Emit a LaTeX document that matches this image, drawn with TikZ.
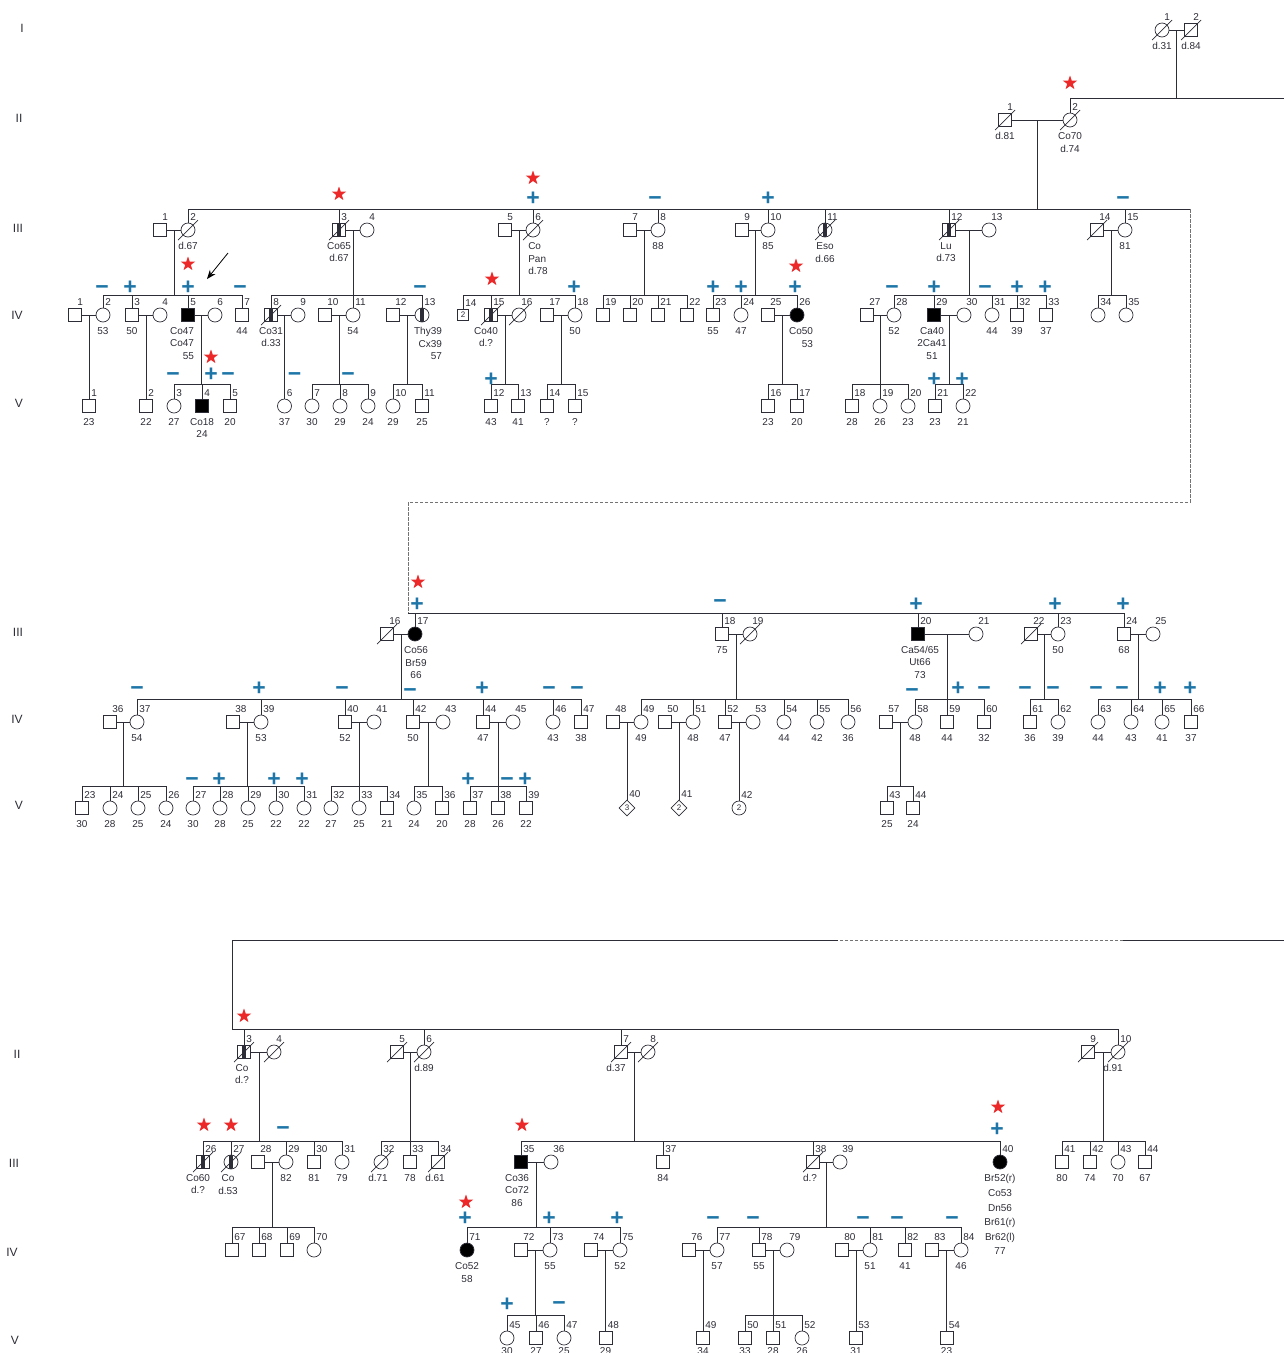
\documentclass[tikz,border=0pt]{standalone}
\usepackage{fontspec}
\setmainfont{Liberation Sans}
\usepackage{tikz}
\usetikzlibrary{calc, positioning, shapes.geometric, arrows.meta}
\definecolor{inkgray}{RGB}{45,45,55}
\definecolor{signblue}{RGB}{30,118,168}
\definecolor{starred}{RGB}{236,40,40}
\newcommand{\lblfont}{\fontsize{10}{12.5}\selectfont}
\tikzstyle{male} = [rectangle, draw, minimum size=13pt, inner sep=0pt]
\tikzstyle{fem} = [circle, draw, minimum size=14pt, inner sep=0pt]
\tikzstyle{aff} = [fill=black]
\tikzstyle{dia} = [diamond, draw, minimum size=16pt, inner sep=0pt, font=\fontsize{8}{8}\selectfont]
\tikzstyle{pmark} = [text=signblue, font=\fontsize{23}{23}\selectfont\bfseries, inner sep=0pt, text height=16pt, text depth=0pt]
\tikzstyle{starmk} = [star, star points=5, star point ratio=2.5, fill=starred, minimum size=15pt, inner sep=0pt]
\tikzstyle{genlbl} = [font=\fontsize{12}{12}\selectfont]
\tikzstyle{arrow} = [thick, black, -{Stealth[length=9pt,width=7pt]}]
\tikzstyle{brk} = [black!55, dash pattern=on 3.5pt off 1.5pt]
\tikzset{
  dslash/.style={to path={([xshift=-10pt,yshift=-10pt]\tikztostart) -- ([xshift=10pt,yshift=10pt]\tikztostart)}},
  dead/.style={append after command={(\tikzlastnode.center) edge[dslash] (\tikzlastnode.center)}},
  stripe/.style={path picture={\fill ([xshift=-2pt]path picture bounding box.north) rectangle ([xshift=2pt]path picture bounding box.south);}},
  numtxt/.style={font=\lblfont, inner sep=0.5pt, anchor=south west, xshift=1.5pt, yshift=1.5pt},
  agetxt/.style={font=\lblfont, inner sep=0.5pt, align=center, yshift=-4.5pt},
  num/.style={label={[numtxt]above:#1}},
  age/.style={label={[agetxt]below:#1}},
  agev/.style={label={[agetxt,yshift=3pt]below:#1}},
  agex/.style 2 args={label={[agetxt,xshift=#1]below:#2}}
}
% couple line with a named mid point, and the sibship below it
\newcommand{\couple}[3]{\draw (#2) -- (#3); \coordinate (#1) at ($(#2)!0.5!(#3)$);}
\newcommand{\kids}[3]{\coordinate (#1s) at (#1 |- 0,#2); \draw (#1) -- (#1s);
  \foreach \k in {#3} {\draw (\k.north) |- (#1s);}}

\begin{document}
\begin{tikzpicture}[x=1pt, y=-1pt, line width=0.7pt, color=inkgray]
\useasboundingbox (0,0) rectangle (1284,1353);

% generation labels
\node (gA1) [genlbl] at (22,28) {I};
\node (gA2) [genlbl] at (19,118) {II};
\node (gA3) [genlbl] at (18,228) {III};
\node (gA4) [genlbl] at (17,315) {IV};
\node (gA5) [genlbl] at (19,403) {V};
\node (gB3) [genlbl] at (18,632) {III};
\node (gB4) [genlbl] at (17,719) {IV};
\node (gB5) [genlbl] at (19,805) {V};
\node (gC2) [genlbl] at (17,1054) {II};
\node (gC3) [genlbl] at (14,1163) {III};
\node (gC4) [genlbl] at (12,1252) {IV};
\node (gC5) [genlbl] at (15,1340) {V};

% Part A: generations I and II
\node (aI1) [fem, dead, num=1, age={d.31}] at (1162,30) {};
\node (aI2) [male, dead, num=2, age={d.84}] at (1191,30) {};
\node (aII1) [male, dead, num=1, age={d.81}] at (1005,120) {};
\node (aII2) [fem, dead, num=2, age={Co70\\d.74}] at (1070,120) {};

% Part A: generation III
\node (aIII1) [male, num=1] at (160,230) {};
\node (aIII2) [fem, dead, num=2, age={d.67}] at (188,230) {};
\node (aIII3) [male, stripe, dead, num=3, age={Co65\\d.67}] at (339,230) {};
\node (aIII4) [fem, num=4] at (367,230) {};
\node (aIII5) [male, num=5] at (505,230) {};
\node (aIII6) [fem, dead, num=6, label={[agetxt,align=left,xshift=5pt]below:Co\\Pan\\d.78}] at (533,230) {};
\node (aIII7) [male, num=7] at (630,230) {};
\node (aIII8) [fem, num=8, age=88] at (658,230) {};
\node (aIII9) [male, num=9] at (742,230) {};
\node (aIII10) [fem, num=10, age=85] at (768,230) {};
\node (aIII11) [fem, stripe, dead, num=11, age={Eso\\d.66}] at (825,230) {};
\node (aIII12) [male, stripe, dead, num=12, agex={-3pt}{Lu\\d.73}] at (949,230) {};
\node (aIII13) [fem, num=13] at (989,230) {};
\node (aIII14) [male, dead, num=14] at (1097,230) {};
\node (aIII15) [fem, num=15, age=81] at (1125,230) {};

% Part A: generation IV
\node (aIV1) [male, num=1] at (75,315) {};
\node (aIV2) [fem, num=2, age=53] at (103,315) {};
\node (aIV3) [male, num=3, age=50] at (132,315) {};
\node (aIV4) [fem, num=4] at (160,315) {};
\node (aIV5) [male, aff, num=5, label={[agetxt,align=right,xshift=-6pt]below:Co47\\Co47\\55}] at (188,315) {};
\node (aIV6) [fem, num=6] at (215,315) {};
\node (aIV7) [male, num=7, age=44] at (242,315) {};
\node (aIV8) [male, stripe, dead, num=8, age={Co31\\d.33}] at (271,315) {};
\node (aIV9) [fem, num=9] at (298,315) {};
\node (aIV10) [male, num=10] at (325,315) {};
\node (aIV11) [fem, num=11, age=54] at (353,315) {};
\node (aIV12) [male, num=12] at (393,315) {};
\node (aIV13) [fem, stripe, num=13, label={[agetxt,align=right,xshift=6pt]below:Thy39\\Cx39\\57}] at (422,315) {};
\node (aIV14) [male, minimum size=11pt, font=\fontsize{8}{8}\selectfont, num=14] at (463,315) {2};
\node (aIV15) [male, stripe, dead, num=15, agex={-5pt}{Co40\\d.?}] at (491,315) {};
\node (aIV16) [fem, dead, num=16] at (519,315) {};
\node (aIV17) [male, num=17] at (547,315) {};
\node (aIV18) [fem, num=18, age=50] at (575,315) {};
\node (aIV19) [male, num=19] at (603,315) {};
\node (aIV20) [male, num=20] at (630,315) {};
\node (aIV21) [male, num=21] at (658,315) {};
\node (aIV22) [male, num=22] at (687,315) {};
\node (aIV23) [male, num=23, age=55] at (713,315) {};
\node (aIV24) [fem, num=24, age=47] at (741,315) {};
\node (aIV25) [male, num=25] at (768,315) {};
\node (aIV26) [fem, aff, num=26, label={[agetxt,align=right,xshift=4pt]below:Co50\\53}] at (797,315) {};
\node (aIV27) [male, num=27] at (867,315) {};
\node (aIV28) [fem, num=28, age=52] at (894,315) {};
\node (aIV29) [male, aff, num=29, agex={-2pt}{Ca40\\2Ca41\\51}] at (934,315) {};
\node (aIV30) [fem, num=30] at (964,315) {};
\node (aIV31) [fem, num=31, age=44] at (992,315) {};
\node (aIV32) [male, num=32, age=39] at (1017,315) {};
\node (aIV33) [male, num=33, age=37] at (1046,315) {};
\node (aIV34) [fem, num=34] at (1098,315) {};
\node (aIV35) [fem, num=35] at (1126,315) {};

% Part A: generation V
\node (aV1) [male, num=1, age=23] at (89,406) {};
\node (aV2) [male, num=2, age=22] at (146,406) {};
\node (aV3) [fem, num=3, age=27] at (174,406) {};
\node (aV4) [male, aff, num=4, age={Co18\\24}] at (202,406) {};
\node (aV5) [male, num=5, age=20] at (230,406) {};
\node (aV6) [fem, num=6, age=37] at (284.5,406) {};
\node (aV7) [fem, num=7, age=30] at (312,406) {};
\node (aV8) [fem, num=8, age=29] at (340,406) {};
\node (aV9) [fem, num=9, age=24] at (368,406) {};
\node (aV10) [fem, num=10, age=29] at (393,406) {};
\node (aV11) [male, num=11, age=25] at (422,406) {};
\node (aV12) [male, num=12, age=43] at (491,406) {};
\node (aV13) [male, num=13, age=41] at (518,406) {};
\node (aV14) [male, num=14, age=?] at (547,406) {};
\node (aV15) [male, num=15, age=?] at (575,406) {};
\node (aV16) [male, num=16, age=23] at (768,406) {};
\node (aV17) [male, num=17, age=20] at (797,406) {};
\node (aV18) [male, num=18, age=28] at (852,406) {};
\node (aV19) [fem, num=19, age=26] at (880,406) {};
\node (aV20) [fem, num=20, age=23] at (908,406) {};
\node (aV21) [male, num=21, age=23] at (935,406) {};
\node (aV22) [fem, num=22, age=21] at (963,406) {};

% Part A: lines
\coordinate (edgeA) at (1284,98);
\coordinate (brkA) at (1190,209);
\coordinate (dashA1) at (1190,502);
\coordinate (dashA2) at (408,502);
\coordinate (brkB) at (408,613);
\couple{aI12c}{aI1}{aI2}
\draw (aI12c) -- (aI12c |- edgeA);
\draw (aII2.north) |- (edgeA);
\couple{aII12c}{aII1}{aII2}
\draw (aII12c) -- (aII12c |- brkA);
\foreach \k in {aIII2,aIII3,aIII6,aIII8,aIII10,aIII11,aIII12,aIII15} {\draw (\k.north) |- (brkA);}
\draw[brk] (brkA) -- (dashA1) -- (dashA2) -- (brkB);
\couple{aIII12c}{aIII1}{aIII2} \kids{aIII12c}{295}{aIV2,aIV3,aIV5,aIV7}
\couple{aIII34c}{aIII3}{aIII4} \kids{aIII34c}{295}{aIV8,aIV11,aIV13}
\couple{aIII56c}{aIII5}{aIII6} \kids{aIII56c}{295}{aIV14,aIV15,aIV18}
\couple{aIII78c}{aIII7}{aIII8} \kids{aIII78c}{295}{aIV19,aIV20,aIV21,aIV22}
\couple{aIII910c}{aIII9}{aIII10} \kids{aIII910c}{295}{aIV23,aIV24,aIV26}
\couple{aIII1213c}{aIII12}{aIII13} \kids{aIII1213c}{295}{aIV28,aIV29,aIV31,aIV32,aIV33}
\couple{aIII1415c}{aIII14}{aIII15} \kids{aIII1415c}{295}{aIV34,aIV35}
\couple{aIV12c}{aIV1}{aIV2} \draw (aIV12c) -- (aV1);
\couple{aIV34c}{aIV3}{aIV4} \draw (aIV34c) -- (aV2);
\couple{aIV56c}{aIV5}{aIV6} \kids{aIV56c}{384}{aV3,aV4,aV5}
\couple{aIV89c}{aIV8}{aIV9} \draw (aIV89c) -- (aV6);
\couple{aIV1011c}{aIV10}{aIV11} \kids{aIV1011c}{384}{aV7,aV8,aV9}
\couple{aIV1213c}{aIV12}{aIV13} \kids{aIV1213c}{384}{aV10,aV11}
\couple{aIV1516c}{aIV15}{aIV16} \kids{aIV1516c}{384}{aV12,aV13}
\couple{aIV1718c}{aIV17}{aIV18} \kids{aIV1718c}{384}{aV14,aV15}
\couple{aIV2526c}{aIV25}{aIV26} \kids{aIV2526c}{384}{aV16,aV17}
\couple{aIV2728c}{aIV27}{aIV28} \kids{aIV2728c}{384}{aV18,aV19,aV20}
\couple{aIV2930c}{aIV29}{aIV30} \kids{aIV2930c}{384}{aV21,aV22}

% proband arrow
\coordinate (arrtail) at (228,253);
\coordinate (arrtip) at (207,279);
\draw[arrow] (arrtail) -- (arrtip);

% Part A: markers
\begin{scope}[node distance=33pt]
\node (aIII6p) [pmark, above of=aIII6] {+};
\node (aIII8m) [pmark, above of=aIII8, xshift=-3pt] {−};
\node (aIII10p) [pmark, above of=aIII10] {+};
\node (aIII15m) [pmark, above of=aIII15, xshift=-2pt] {−};
\end{scope}
\begin{scope}[node distance=29pt]
\node (aIV2m) [pmark, above of=aIV2, xshift=-1pt] {−};
\node (aIV3p) [pmark, above of=aIV3, xshift=-2pt] {+};
\node (aIV5p) [pmark, above of=aIV5] {+};
\node (aIV7m) [pmark, above of=aIV7, xshift=-2pt] {−};
\node (aIV13m) [pmark, above of=aIV13, xshift=-2pt] {−};
\node (aIV18p) [pmark, above of=aIV18, xshift=-1pt] {+};
\node (aIV23p) [pmark, above of=aIV23] {+};
\node (aIV24p) [pmark, above of=aIV24] {+};
\node (aIV26p) [pmark, above of=aIV26, xshift=-2pt] {+};
\node (aIV28m) [pmark, above of=aIV28, xshift=-2pt] {−};
\node (aIV29p) [pmark, above of=aIV29] {+};
\node (aIV31m) [pmark, above of=aIV31, xshift=-7pt] {−};
\node (aIV32p) [pmark, above of=aIV32] {+};
\node (aIV33p) [pmark, above of=aIV33, xshift=-1pt] {+};
\end{scope}
\begin{scope}[node distance=33pt]
\node (aV3m) [pmark, above of=aV3, xshift=-1pt] {−};
\node (aV4p) [pmark, above of=aV4, xshift=9pt] {+};
\node (aV5m) [pmark, above of=aV5, xshift=-2pt] {−};
\node (aV6m) [pmark, above of=aV6, xshift=10pt] {−};
\node (aV8m) [pmark, above of=aV8, xshift=8pt] {−};
\end{scope}
\begin{scope}[node distance=28pt]
\node (aV12p) [pmark, above of=aV12] {+};
\node (aV21p) [pmark, above of=aV21, xshift=-1pt] {+};
\node (aV22p) [pmark, above of=aV22, xshift=-1pt] {+};
\end{scope}
\node (aII2s) [starmk, node distance=37pt, above of=aII2] {};
\node (aIII3s) [starmk, node distance=36pt, above of=aIII3] {};
\node (aIII6s) [starmk, node distance=52pt, above of=aIII6] {};
\node (aIV5s) [starmk, node distance=51pt, above of=aIV5] {};
\node (aIV15s) [starmk, node distance=36pt, above of=aIV15, xshift=1pt] {};
\node (aIV26s) [starmk, node distance=49pt, above of=aIV26, xshift=-1pt] {};
\node (aV4s) [starmk, node distance=49pt, above of=aV4, xshift=9pt] {};

% Part B: generation III
\node (bIII16) [male, dead, num=16] at (387,634) {};
\node (bIII17) [fem, aff, num=17, agex={1pt}{Co56\\Br59\\66}] at (415,634) {};
\node (bIII18) [male, num=18, age=75] at (722,634) {};
\node (bIII19) [fem, dead, num=19] at (750,634) {};
\node (bIII20) [male, aff, num=20, agex={2pt}{Ca54/65\\Ut66\\73}] at (918,634) {};
\node (bIII21) [fem, num=21] at (976,634) {};
\node (bIII22) [male, dead, num=22] at (1031,634) {};
\node (bIII23) [fem, num=23, age=50] at (1058,634) {};
\node (bIII24) [male, num=24, age=68] at (1124,634) {};
\node (bIII25) [fem, num=25] at (1153,634) {};

% Part B: generation IV
\node (bIV36) [male, num=36] at (110,722) {};
\node (bIV37) [fem, num=37, age=54] at (137,722) {};
\node (bIV38) [male, num=38] at (233,722) {};
\node (bIV39) [fem, num=39, age=53] at (261,722) {};
\node (bIV40) [male, num=40, age=52] at (345,722) {};
\node (bIV41) [fem, num=41] at (374,722) {};
\node (bIV42) [male, num=42, age=50] at (413,722) {};
\node (bIV43) [fem, num=43] at (443,722) {};
\node (bIV44) [male, num=44, age=47] at (483,722) {};
\node (bIV45) [fem, num=45] at (513,722) {};
\node (bIV46) [fem, num=46, age=43] at (553,722) {};
\node (bIV47) [male, num=47, age=38] at (581,722) {};
\node (bIV48) [male, num=48] at (613,722) {};
\node (bIV49) [fem, num=49, age=49] at (641,722) {};
\node (bIV50) [male, num=50] at (665,722) {};
\node (bIV51) [fem, num=51, age=48] at (693,722) {};
\node (bIV52) [male, num=52, age=47] at (725,722) {};
\node (bIV53) [fem, num=53] at (753,722) {};
\node (bIV54) [fem, num=54, age=44] at (784,722) {};
\node (bIV55) [fem, num=55, age=42] at (817,722) {};
\node (bIV56) [fem, num=56, age=36] at (848,722) {};
\node (bIV57) [male, num=57] at (886,722) {};
\node (bIV58) [fem, num=58, age=48] at (915,722) {};
\node (bIV59) [male, num=59, age=44] at (947,722) {};
\node (bIV60) [male, num=60, age=32] at (984,722) {};
\node (bIV61) [male, num=61, age=36] at (1030,722) {};
\node (bIV62) [fem, num=62, age=39] at (1058,722) {};
\node (bIV63) [fem, num=63, age=44] at (1098,722) {};
\node (bIV64) [fem, num=64, age=43] at (1131,722) {};
\node (bIV65) [fem, num=65, age=41] at (1162,722) {};
\node (bIV66) [male, num=66, age=37] at (1191,722) {};

% Part B: generation V
\node (bV23) [male, num=23, age=30] at (82,808) {};
\node (bV24) [fem, num=24, age=28] at (110,808) {};
\node (bV25) [fem, num=25, age=25] at (138,808) {};
\node (bV26) [fem, num=26, age=24] at (166,808) {};
\node (bV27) [fem, num=27, age=30] at (193,808) {};
\node (bV28) [fem, num=28, age=28] at (220,808) {};
\node (bV29) [fem, num=29, age=25] at (248,808) {};
\node (bV30) [fem, num=30, age=22] at (276,808) {};
\node (bV31) [fem, num=31, age=22] at (304,808) {};
\node (bV32) [fem, num=32, age=27] at (331,808) {};
\node (bV33) [fem, num=33, age=25] at (359,808) {};
\node (bV34) [male, num=34, age=21] at (387,808) {};
\node (bV35) [fem, num=35, age=24] at (414,808) {};
\node (bV36) [male, num=36, age=20] at (442,808) {};
\node (bV37) [male, num=37, age=28] at (470,808) {};
\node (bV38) [male, num=38, age=26] at (498,808) {};
\node (bV39) [male, num=39, age=22] at (526,808) {};
\node (bV40) [dia, num=40] at (627,808) {3};
\node (bV41) [dia, num=41] at (679,808) {2};
\node (bV42) [fem, font=\fontsize{8}{8}\selectfont, num=42] at (739,808) {2};
\node (bV43) [male, num=43, age=25] at (887,808) {};
\node (bV44) [male, num=44, age=24] at (913,808) {};

% Part B: lines
\foreach \k in {bIII17,bIII18,bIII20,bIII23,bIII24} {\draw (\k.north) |- (brkB);}
\couple{bIII1617c}{bIII16}{bIII17} \kids{bIII1617c}{699}{bIV37,bIV39,bIV40,bIV42,bIV44,bIV46,bIV47}
\couple{bIII1819c}{bIII18}{bIII19} \kids{bIII1819c}{699}{bIV49,bIV51,bIV52,bIV54,bIV55,bIV56}
\couple{bIII2021c}{bIII20}{bIII21} \kids{bIII2021c}{699}{bIV58,bIV59,bIV60}
\couple{bIII2223c}{bIII22}{bIII23} \kids{bIII2223c}{699}{bIV61,bIV62}
\couple{bIII2425c}{bIII24}{bIII25} \kids{bIII2425c}{699}{bIV63,bIV64,bIV65,bIV66}
\couple{bIV3637c}{bIV36}{bIV37} \kids{bIV3637c}{786}{bV23,bV24,bV25,bV26}
\couple{bIV3839c}{bIV38}{bIV39} \kids{bIV3839c}{786}{bV27,bV28,bV29,bV30,bV31}
\couple{bIV4041c}{bIV40}{bIV41} \kids{bIV4041c}{786}{bV32,bV33,bV34}
\couple{bIV4243c}{bIV42}{bIV43} \kids{bIV4243c}{786}{bV35,bV36}
\couple{bIV4445c}{bIV44}{bIV45} \kids{bIV4445c}{786}{bV37,bV38,bV39}
\couple{bIV4849c}{bIV48}{bIV49} \draw (bIV4849c) -- (bV40);
\couple{bIV5051c}{bIV50}{bIV51} \draw (bIV5051c) -- (bV41);
\couple{bIV5253c}{bIV52}{bIV53} \draw (bIV5253c) -- (bV42);
\couple{bIV5758c}{bIV57}{bIV58} \kids{bIV5758c}{786}{bV43,bV44}

% Part B: markers
\begin{scope}[node distance=31pt]
\node (bIII17p) [pmark, above of=bIII17, xshift=2pt] {+};
\node (bIII18m) [pmark, above of=bIII18, xshift=-2pt, yshift=3pt] {−};
\node (bIII20p) [pmark, above of=bIII20, xshift=-2pt] {+};
\node (bIII23p) [pmark, above of=bIII23, xshift=-3pt] {+};
\node (bIII24p) [pmark, above of=bIII24, xshift=-1pt] {+};
\end{scope}
\node (bIII17s) [starmk, node distance=52pt, above of=bIII17, xshift=3pt] {};
\begin{scope}[node distance=35pt]
\node (bIV37m) [pmark, above of=bIV37] {−};
\node (bIV39p) [pmark, above of=bIV39, xshift=-2pt] {+};
\node (bIV40m) [pmark, above of=bIV40, xshift=-3pt] {−};
\node (bIV42m) [pmark, above of=bIV42, xshift=-3pt, yshift=-2pt] {−};
\node (bIV44p) [pmark, above of=bIV44, xshift=-1pt] {+};
\node (bIV46m) [pmark, above of=bIV46, xshift=-4pt] {−};
\node (bIV47m) [pmark, above of=bIV47, xshift=-4pt] {−};
\node (bIV58m) [pmark, above of=bIV58, xshift=-3pt, yshift=-2pt] {−};
\node (bIV59p) [pmark, above of=bIV59, xshift=11pt] {+};
\node (bIV60m) [pmark, above of=bIV60] {−};
\node (bIV61m) [pmark, above of=bIV61, xshift=-5pt] {−};
\node (bIV62m) [pmark, above of=bIV62, xshift=-5pt] {−};
\node (bIV63m) [pmark, above of=bIV63, xshift=-2pt] {−};
\node (bIV64m) [pmark, above of=bIV64, xshift=-9pt] {−};
\node (bIV65p) [pmark, above of=bIV65, xshift=-2pt] {+};
\node (bIV66p) [pmark, above of=bIV66, xshift=-1pt] {+};
\end{scope}
\begin{scope}[node distance=30pt]
\node (bV27m) [pmark, above of=bV27, xshift=-1pt] {−};
\node (bV28p) [pmark, above of=bV28, xshift=-1pt] {+};
\node (bV30p) [pmark, above of=bV30, xshift=-2pt] {+};
\node (bV31p) [pmark, above of=bV31, xshift=-2pt] {+};
\node (bV37p) [pmark, above of=bV37, xshift=-2pt] {+};
\node (bV38m) [pmark, above of=bV38, xshift=9pt] {−};
\node (bV39p) [pmark, above of=bV39, xshift=-1pt] {+};
\end{scope}

% Part C: generation II
\node (cII3) [male, stripe, dead, num=3, agex={-2pt}{Co\\d.?}] at (244,1052) {};
\node (cII4) [fem, dead, num=4] at (274,1052) {};
\node (cII5) [male, dead, num=5] at (397,1052) {};
\node (cII6) [fem, dead, num=6, age={d.89}] at (424,1052) {};
\node (cII7) [male, dead, num=7, agex={-5pt}{d.37}] at (621,1052) {};
\node (cII8) [fem, dead, num=8] at (648,1052) {};
\node (cII9) [male, dead, num=9] at (1088,1052) {};
\node (cII10) [fem, dead, num=10, agex={-5pt}{d.91}] at (1118,1052) {};

% Part C: generation III
\node (cIII26) [male, stripe, dead, num=26, agex={-5pt}{Co60\\d.?}] at (203,1162) {};
\node (cIII27) [fem, stripe, dead, num=27, agex={-3pt}{Co\\d.53}] at (231,1162) {};
\node (cIII28) [male, num=28] at (258,1162) {};
\node (cIII29) [fem, num=29, age=82] at (286,1162) {};
\node (cIII30) [male, num=30, age=81] at (314,1162) {};
\node (cIII31) [fem, num=31, age=79] at (342,1162) {};
\node (cIII32) [fem, dead, num=32, agex={-3pt}{d.71}] at (381,1162) {};
\node (cIII33) [male, num=33, age=78] at (410,1162) {};
\node (cIII34) [male, dead, num=34, agex={-3pt}{d.61}] at (438,1162) {};
\node (cIII35) [male, aff, num=35, agex={-4pt}{Co36\\Co72\\86}] at (521,1162) {};
\node (cIII36) [fem, num=36] at (551,1162) {};
\node (cIII37) [male, num=37, age=84] at (663,1162) {};
\node (cIII38) [male, dead, num=38, agex={-3pt}{d.?}] at (813,1162) {};
\node (cIII39) [fem, num=39] at (840,1162) {};
\node (cIII40) [fem, aff, num=40, label={[agetxt,font=\fontsize{10}{14.6}\selectfont]below:Br52(r)\\Co53\\Dn56\\Br61(r)\\Br62(l)\\77}] at (1000,1162) {};
\node (cIII41) [male, num=41, age=80] at (1062,1162) {};
\node (cIII42) [male, num=42, age=74] at (1090,1162) {};
\node (cIII43) [fem, num=43, age=70] at (1118,1162) {};
\node (cIII44) [male, num=44, age=67] at (1145,1162) {};

% Part C: generation IV
\node (cIV67) [male, num=67] at (232,1250) {};
\node (cIV68) [male, num=68] at (259,1250) {};
\node (cIV69) [male, num=69] at (287,1250) {};
\node (cIV70) [fem, num=70] at (314,1250) {};
\node (cIV71) [fem, aff, num=71, age={Co52\\58}] at (467,1250) {};
\node (cIV72) [male, num=72] at (521,1250) {};
\node (cIV73) [fem, num=73, age=55] at (550,1250) {};
\node (cIV74) [male, num=74] at (591,1250) {};
\node (cIV75) [fem, num=75, age=52] at (620,1250) {};
\node (cIV76) [male, num=76] at (689,1250) {};
\node (cIV77) [fem, num=77, age=57] at (717,1250) {};
\node (cIV78) [male, num=78, age=55] at (759,1250) {};
\node (cIV79) [fem, num=79] at (787,1250) {};
\node (cIV80) [male, num=80] at (842,1250) {};
\node (cIV81) [fem, num=81, age=51] at (870,1250) {};
\node (cIV82) [male, num=82, age=41] at (905,1250) {};
\node (cIV83) [male, num=83] at (932,1250) {};
\node (cIV84) [fem, num=84, age=46] at (961,1250) {};

% Part C: generation V (ages run off the lower edge)
\node (cV45) [fem, num=45, agev=30] at (507,1338) {};
\node (cV46) [male, num=46, agev=27] at (536,1338) {};
\node (cV47) [fem, num=47, agev=25] at (564,1338) {};
\node (cV48) [male, num=48, agev=29] at (605.5,1338) {};
\node (cV49) [male, num=49, agev=34] at (703,1338) {};
\node (cV50) [male, num=50, agev=33] at (745,1338) {};
\node (cV51) [male, num=51, agev=28] at (773,1338) {};
\node (cV52) [fem, num=52, agev=26] at (802,1338) {};
\node (cV53) [male, num=53, agev=31] at (856,1338) {};
\node (cV54) [male, num=54, agev=23] at (946.5,1338) {};

% Part C: lines
\coordinate (edgeB) at (1284,940);
\coordinate (dashB1) at (1123,940);
\coordinate (dashB2) at (838,940);
\coordinate (cornerC) at (232,940);
\coordinate (brkC) at (232,1029);
\draw (edgeB) -- (dashB1);
\draw[brk] (dashB1) -- (dashB2);
\draw (dashB2) -- (cornerC) -- (brkC);
\foreach \k in {cII3,cII6,cII7,cII10} {\draw (\k.north) |- (brkC);}
\couple{cII34c}{cII3}{cII4} \kids{cII34c}{1141}{cIII26,cIII27,cIII29,cIII30,cIII31}
\couple{cII56c}{cII5}{cII6} \kids{cII56c}{1141}{cIII32,cIII33,cIII34}
\couple{cII78c}{cII7}{cII8} \kids{cII78c}{1141}{cIII35,cIII37,cIII38,cIII40}
\couple{cII910c}{cII9}{cII10} \kids{cII910c}{1141}{cIII41,cIII42,cIII43,cIII44}
\couple{cIII2829c}{cIII28}{cIII29} \kids{cIII2829c}{1227}{cIV67,cIV68,cIV69,cIV70}
\couple{cIII3536c}{cIII35}{cIII36} \kids{cIII3536c}{1227}{cIV71,cIV73,cIV75}
\couple{cIII3839c}{cIII38}{cIII39} \kids{cIII3839c}{1227}{cIV77,cIV78,cIV81,cIV82,cIV84}
\couple{cIV7273c}{cIV72}{cIV73} \kids{cIV7273c}{1315}{cV45,cV46,cV47}
\couple{cIV7475c}{cIV74}{cIV75} \draw (cIV7475c) -- (cV48);
\couple{cIV7677c}{cIV76}{cIV77} \draw (cIV7677c) -- (cV49);
\couple{cIV7879c}{cIV78}{cIV79} \kids{cIV7879c}{1315}{cV50,cV51,cV52}
\couple{cIV8081c}{cIV80}{cIV81} \draw (cIV8081c) -- (cV53);
\couple{cIV8384c}{cIV83}{cIV84} \draw (cIV8384c) -- (cV54);

% Part C: markers
\node (cII3s) [starmk, node distance=36pt, above of=cII3] {};
\node (cIII26s) [starmk, node distance=37pt, above of=cIII26, xshift=1pt] {};
\node (cIII27s) [starmk, node distance=37pt, above of=cIII27] {};
\node (cIII29m) [pmark, node distance=35pt, above of=cIII29, xshift=-3pt] {−};
\node (cIII35s) [starmk, node distance=37pt, above of=cIII35, xshift=1pt] {};
\node (cIII40p) [pmark, node distance=34pt, above of=cIII40, xshift=-3pt] {+};
\node (cIII40s) [starmk, node distance=55pt, above of=cIII40, xshift=-2pt] {};
\begin{scope}[node distance=33pt]
\node (cIV71p) [pmark, above of=cIV71, xshift=-2pt] {+};
\node (cIV73p) [pmark, above of=cIV73, xshift=-1pt] {+};
\node (cIV75p) [pmark, above of=cIV75, xshift=-3pt] {+};
\node (cIV77m) [pmark, above of=cIV77, xshift=-4pt] {−};
\node (cIV78m) [pmark, above of=cIV78, xshift=-6pt] {−};
\node (cIV81m) [pmark, above of=cIV81, xshift=-7pt] {−};
\node (cIV82m) [pmark, above of=cIV82, xshift=-8pt] {−};
\node (cIV84m) [pmark, above of=cIV84, xshift=-9pt] {−};
\end{scope}
\node (cIV71s) [starmk, node distance=48pt, above of=cIV71, xshift=-1pt] {};
\node (cV45p) [pmark, node distance=35pt, above of=cV45] {+};
\node (cV47m) [pmark, node distance=36pt, above of=cV47, xshift=-5pt] {−};

\end{tikzpicture}
\end{document}
